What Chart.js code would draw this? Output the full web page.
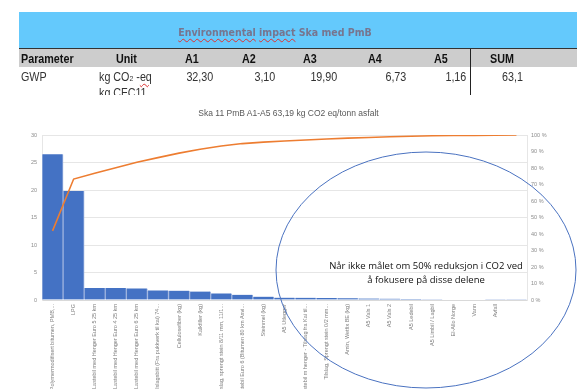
<!DOCTYPE html>
<html lang="no">
<head>
  <meta charset="UTF-8" />
  <title>Ska 11 PmB A1-A5</title>
  <script src="https://cdn.jsdelivr.net/npm/chart.js"></script>
  <style>
    body { margin: 0; background: #fff; width: 577px; height: 389px; overflow: hidden; position: relative; font-family: "Liberation Sans", Arial, sans-serif; }
    #chart { position: absolute; left: 0; top: 0; }
    .abs { position: absolute; white-space: nowrap; }
    #table { position: absolute; left: 0; top: 0; width: 577px; height: 95px; overflow: hidden; }
    .band { position: absolute; left: 19px; top: 12px; width: 558px; height: 36px; background: #64c9fc; border-bottom: 1.5px solid #333; }
    .hdr { position: absolute; left: 19px; top: 49px; width: 558px; height: 18px; background: #cdcdcd; }
    .vline { position: absolute; left: 470px; top: 49px; width: 1px; height: 50px; background: #222; }
    .th, .td { font-family: "Liberation Sans", Arial, sans-serif; font-size: 12.5px; transform: scaleX(0.86); transform-origin: left top; }
    .th { font-weight: bold; color: #111; top: 52px; }
    .td { color: #333; top: 70px; }
    .r { text-align: right; transform-origin: right top; }
    .squig { text-decoration: underline wavy #d33; text-decoration-thickness: 1px; text-underline-offset: 2px; }
  </style>
</head>
<body>
  <canvas id="chart" width="577" height="389"></canvas>

  <div id="table">
    <div class="band"></div>
    <div class="abs" style="left:0;width:550px;top:26px;text-align:center;font-family:'DejaVu Sans Condensed','Liberation Sans',sans-serif;font-weight:bold;font-size:10.5px;color:#77758f;">
      <span class="squig">Environmental</span> <span class="squig">impact</span> Ska med PmB
    </div>
    <div class="hdr"></div>
    <div class="vline"></div>
    <div class="abs th" style="left:21px">Parameter</div>
    <div class="abs th" style="left:116px">Unit</div>
    <div class="abs th" style="left:185px">A1</div>
    <div class="abs th" style="left:242px">A2</div>
    <div class="abs th" style="left:303px">A3</div>
    <div class="abs th" style="left:368px">A4</div>
    <div class="abs th" style="left:434px">A5</div>
    <div class="abs th" style="left:490px">SUM</div>
    <div class="abs td" style="left:21px">GWP</div>
    <div class="abs td" style="left:99px">kg CO<span style="font-size:8px">2</span> -<span class="squig">eq</span></div>
    <div class="abs td r" style="right:364px">32,30</div>
    <div class="abs td r" style="right:302px">3,10</div>
    <div class="abs td r" style="right:240px">19,90</div>
    <div class="abs td r" style="right:171px">6,73</div>
    <div class="abs td r" style="right:111px">1,16</div>
    <div class="abs td" style="left:502px">63,1</div>
    <div class="abs td" style="left:99px;top:86px">kg CFC11</div>
  </div>

  <div class="abs" style="left:0;width:577px;top:108px;text-align:center;font-size:8.5px;color:#595959;">Ska 11 PmB A1-A5 63,19 kg CO2 eq/tonn asfalt</div>

  <div class="abs" style="left:276px;width:300px;top:259px;text-align:center;font-family:'Open Sans','Liberation Sans',sans-serif;font-size:9.5px;line-height:14px;color:#111;">
    Når ikke målet om 50% reduksjon i CO2 ved<br>å fokusere på disse delene
  </div>

  <script>
    // Categories (sorted as in the pareto chart)
    const categories = [
      'Polymermodifisert bitumen, PMB,...',
      'LPG',
      'Lastebil med Henger Euro 5 25 km',
      'Lastebil med Henger Euro 4 25 km',
      'Lastebil med Henger Euro 6 25 km',
      'Tilslagsbitt (Fra pukkverk til kai) 74...',
      'Cellulosefiber (kg)',
      'Kalkfiller (kg)',
      'Tilslag, sprengt stein 8/11 mm, 11/1...',
      'Lastebil Euro 6 (Bitumen 80 km Asvi...',
      'Steinmel (kg)',
      'A5 Utlegger',
      'Lastebil m henger - Tilslag fra Kai til...',
      'Tilslag, Sprengt stein 0/2 mm...',
      'Amin, Wetfix BE (kg)',
      'A5 Vals 1',
      'A5 Vals 2',
      'A5 Ledebil',
      'A5 Limbil / Lagbil',
      'El-Allo Norge',
      'Vann',
      'Avfall',
      ''
    ];

    // kg CO2 eq per category
    const values = [26.5, 19.8, 2.2, 2.2, 2.1, 1.75, 1.7, 1.55, 1.2, 0.95, 0.6, 0.42,
      0.4, 0.35, 0.3, 0.28, 0.25, 0.2, 0.15, 0.1, 0.08, 0.05, 0.03];

    // cumulative share (%)
    const cumulative = [41.9, 73.3, 76.8, 80.2, 83.5, 86.3, 89.0, 91.4, 93.3, 94.8, 95.7, 96.4,
      97.0, 97.6, 98.1, 98.5, 98.9, 99.2, 99.5, 99.7, 99.8, 99.9, 100];

    // axis ranges / steps
    const leftMax = 30, leftStep = 5;
    const rightMax = 100, rightStep = 10;

    const tickFont = { family: 'Liberation Sans', size: 5.5 };

    // ellipse note drawn around the tail of the pareto
    const ellipseNote = {
      id: 'ellipseNote',
      afterDraw(chart) {
        const ctx = chart.ctx;
        ctx.save();
        ctx.beginPath();
        ctx.ellipse(426, 270, 150, 118, 0, 0, Math.PI * 2);
        ctx.strokeStyle = '#4a72c0';
        ctx.lineWidth = 1;
        ctx.stroke();
        ctx.restore();
      }
    };

    new Chart(document.getElementById('chart'), {
      data: {
        labels: categories,
        datasets: [
          {
            type: 'line',
            data: cumulative,
            yAxisID: 'y1',
            borderColor: '#ed7d31',
            borderWidth: 1.6,
            pointRadius: 0,
            tension: 0,
            order: 0
          },
          {
            type: 'bar',
            data: values,
            yAxisID: 'y',
            backgroundColor: '#4472c4',
            borderColor: '#9db3df',
            borderWidth: { left: 1, right: 1, top: 0, bottom: 0 },
            categoryPercentage: 1,
            barPercentage: 1,
            order: 1
          }
        ]
      },
      plugins: [ellipseNote],
      options: {
        responsive: false,
        animation: false,
        layout: { padding: { top: 135, left: 0, right: 0, bottom: 0 } },
        plugins: { legend: { display: false }, tooltip: { enabled: false }, title: { display: false } },
        scales: {
          x: {
            grid: { display: false, drawTicks: false },
            border: { color: '#d9d9d9' },
            ticks: {
              font: tickFont, color: '#7f7f7f', autoSkip: false,
              minRotation: 90, maxRotation: 90, padding: 4
            },
            afterFit(s) { s.height = 89; }
          },
          y: {
            position: 'left',
            min: 0, max: leftMax,
            grid: { color: '#e6e6e6', drawTicks: false },
            border: { color: '#e6e6e6' },
            ticks: { stepSize: leftStep, font: tickFont, color: '#8c8c8c', padding: 5 },
            afterFit(s) { s.width = 42; }
          },
          y1: {
            position: 'right',
            min: 0, max: rightMax,
            grid: { drawOnChartArea: false, drawTicks: false },
            border: { color: '#e6e6e6' },
            ticks: {
              stepSize: rightStep, font: tickFont, color: '#8c8c8c', padding: 4,
              callback: v => v + ' %'
            },
            afterFit(s) { s.width = 50; }
          }
        }
      }
    });
  </script>
</body>
</html>
